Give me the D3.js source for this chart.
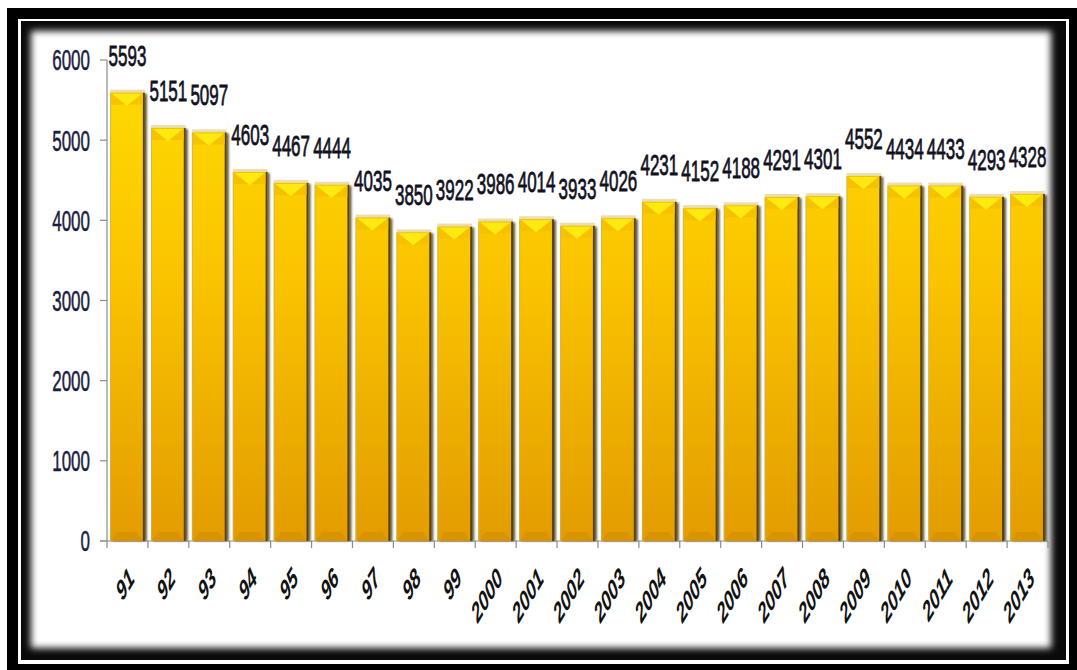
<!DOCTYPE html>
<html>
<head>
<meta charset="utf-8">
<script src="https://cdn.jsdelivr.net/npm/d3@7"></script>
<style>
html,body{margin:0;padding:0;background:#fff;}
svg{display:block;}
</style>
</head>
<body>
<svg id="chart" width="1077" height="670"></svg>
<script>
const categories = ["91","92","93","94","95","96","97","98","99","2000","2001","2002","2003","2004","2005","2006","2007","2008","2009","2010","2011","2012","2013"];
const values = [5593,5151,5097,4603,4467,4444,4035,3850,3922,3986,4014,3933,4026,4231,4152,4188,4291,4301,4552,4434,4433,4293,4328];
const yTicks = [0,1000,2000,3000,4000,5000,6000];

const svg = d3.select("#chart");
const W = 1077, H = 670;
const defs = svg.append("defs");

// frame
svg.append("rect").attr("x",0).attr("y",0).attr("width",W).attr("height",H).attr("fill","#fff");
svg.append("rect").attr("x",7).attr("y",8).attr("width",W-7).attr("height",H-8).attr("fill","#000");
svg.append("rect").attr("x",18).attr("y",19).attr("width",1051).attr("height",645).attr("fill","#fff");
svg.append("rect").attr("x",21).attr("y",21).attr("width",1045).attr("height",639).attr("fill","#0a0a0a");
const blur = defs.append("filter").attr("id","soft").attr("x","-5%").attr("y","-5%").attr("width","110%").attr("height","110%");
blur.append("feGaussianBlur").attr("stdDeviation",3.5);
svg.append("rect").attr("x",31).attr("y",31).attr("width",1020).attr("height",617).attr("fill","#fff").attr("filter","url(#soft)");

// scales
const x = d3.scaleBand().domain(categories).range([107,1048]).paddingInner(0.15).paddingOuter(0.075);
const y = d3.scaleLinear().domain([0,6000]).range([541,60]);
const step = x.step();

// gradients
const g1 = defs.append("linearGradient").attr("id","barGrad").attr("gradientUnits","userSpaceOnUse")
  .attr("x1",0).attr("y1",y(6000)).attr("x2",0).attr("y2",y(0));
g1.append("stop").attr("offset","0%").attr("stop-color","#FFDC00");
g1.append("stop").attr("offset","45%").attr("stop-color","#FAC400");
g1.append("stop").attr("offset","100%").attr("stop-color","#E39C00");

const sh = defs.append("filter").attr("id","shadow").attr("x","-20%").attr("y","-5%").attr("width","140%").attr("height","110%");
sh.append("feGaussianBlur").attr("stdDeviation",1.2);

const plot = svg.append("g");

// axes lines
plot.append("line").attr("x1",107).attr("x2",107).attr("y1",y(6000)).attr("y2",y(0)).attr("stroke","#8c8c8c").attr("stroke-width",1.2);
plot.append("line").attr("x1",100).attr("x2",1048).attr("y1",y(0)).attr("y2",y(0)).attr("stroke","#8c8c8c").attr("stroke-width",1.2);
plot.selectAll(".yt").data(yTicks).join("line")
  .attr("x1",100).attr("x2",107).attr("y1",d=>y(d)).attr("y2",d=>y(d)).attr("stroke","#8c8c8c").attr("stroke-width",1.2);
plot.selectAll(".xt").data(d3.range(categories.length+1)).join("line")
  .attr("x1",i=>107+i*step).attr("x2",i=>107+i*step).attr("y1",y(0)).attr("y2",y(0)+7).attr("stroke","#8c8c8c").attr("stroke-width",1.2);

// bars
const rows = categories.map((c,i)=>({c,v:values[i]}));
const bars = plot.selectAll(".bar").data(rows).join("g");
bars.append("rect").attr("x",d=>x(d.c)+2).attr("y",d=>y(d.v)+1).attr("width",x.bandwidth()).attr("height",d=>y(0)-y(d.v)-1)
  .attr("fill","#2a2000").attr("opacity",0.75).attr("filter","url(#shadow)");
bars.append("rect").attr("x",d=>x(d.c)).attr("y",d=>y(d.v)).attr("width",x.bandwidth()).attr("height",d=>y(0)-y(d.v))
  .attr("fill","url(#barGrad)");
// left light edge
bars.append("rect").attr("x",d=>x(d.c)).attr("y",d=>y(d.v)).attr("width",1).attr("height",d=>y(0)-y(d.v))
  .attr("fill","#c9b070").attr("opacity",0.8);
// right dark edge
bars.append("rect").attr("x",d=>x(d.c)+x.bandwidth()-2).attr("y",d=>y(d.v)).attr("width",2).attr("height",d=>y(0)-y(d.v))
  .attr("fill","#5a4300");
// top bevel: slightly darker corners + bright middle triangle
bars.append("path").attr("d",d=>{
  const x0=x(d.c)+1, x1=x(d.c)+x.bandwidth()-2, t=y(d.v);
  return `M${x0},${t}L${x1},${t}L${x1},${t+12}L${x0},${t+12}Z`;
}).attr("fill","#F4C000").attr("opacity",0.85);
bars.append("path").attr("d",d=>{
  const x0=x(d.c)+1, x1=x(d.c)+x.bandwidth()-2, t=y(d.v), cx=(x0+x1)/2;
  return `M${x0+1},${t+1}L${x1-1},${t+1}L${cx},${t+13}Z`;
}).attr("fill","#FFEA10");
// top face strip
bars.append("rect").attr("x",d=>x(d.c)).attr("y",d=>y(d.v)-3).attr("width",x.bandwidth()).attr("height",3)
  .attr("fill","#E6D08A").attr("opacity",0.7);
// bottom bevel
bars.append("path").attr("d",d=>{
  const x0=x(d.c), x1=x0+x.bandwidth()-2, b=y(0);
  return `M${x0+1},${b}L${x1},${b}L${x1-6},${b-9}L${x0+7},${b-9}Z`;
}).attr("fill","#C98700").attr("opacity",0.4);

// data labels
plot.selectAll(".lbl").data(rows).join("text")
  .attr("transform",d=>`translate(${x(d.c)+x.bandwidth()/2},${y(d.v)-27}) scale(1,1.7)`)
  .attr("text-anchor","middle")
  .attr("font-family","Liberation Sans, Arial, sans-serif").attr("font-size","17px")
  .attr("fill","#111122").attr("stroke","#111122").attr("stroke-width",0.45)
  .text(d=>d.v);

// y tick labels
plot.selectAll(".ylbl").data(yTicks).join("text")
  .attr("transform",d=>`translate(90,${y(d)}) scale(1,1.7)`)
  .attr("dy","0.36em").attr("text-anchor","end")
  .attr("font-family","Liberation Sans, Arial, sans-serif").attr("font-size","17px")
  .attr("fill","#1c1c40").attr("stroke","#1c1c40").attr("stroke-width",0.3)
  .text(d=>d);

// x tick labels
plot.selectAll(".xlbl").data(categories).join("text")
  .attr("transform",d=>`translate(${x(d)+x.bandwidth()/2+4},${y(0)+32}) scale(1,1.7) rotate(-45)`)
  .attr("text-anchor","end").attr("dy","0.35em")
  .attr("font-family","Liberation Sans, Arial, sans-serif").attr("font-size","16.5px")
  .attr("font-weight","bold").attr("font-style","italic")
  .attr("fill","#111")
  .text(d=>d);
</script>
</body>
</html>
